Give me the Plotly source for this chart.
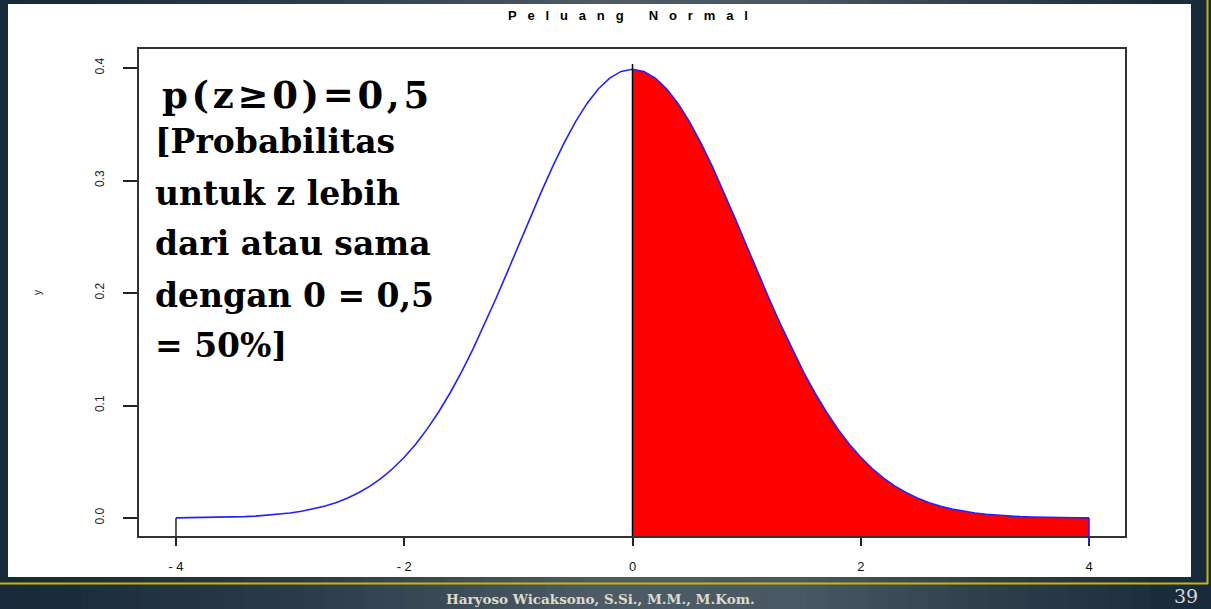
import plotly.graph_objects as go

# ---- data ----
z_values = [-4.0, -3.9, -3.8, -3.7, -3.6, -3.5, -3.4, -3.3, -3.2, -3.1, -3.0,
            -2.9, -2.8, -2.7, -2.6, -2.5, -2.4, -2.3, -2.2, -2.1, -2.0,
            -1.9, -1.8, -1.7, -1.6, -1.5, -1.4, -1.3, -1.2, -1.1, -1.0,
            -0.9, -0.8, -0.7, -0.6, -0.5, -0.4, -0.3, -0.2, -0.1, 0.0,
            0.1, 0.2, 0.3, 0.4, 0.5, 0.6, 0.7, 0.8, 0.9, 1.0,
            1.1, 1.2, 1.3, 1.4, 1.5, 1.6, 1.7, 1.8, 1.9, 2.0,
            2.1, 2.2, 2.3, 2.4, 2.5, 2.6, 2.7, 2.8, 2.9, 3.0,
            3.1, 3.2, 3.3, 3.4, 3.5, 3.6, 3.7, 3.8, 3.9, 4.0]
density_values = [0.0001, 0.0002, 0.0003, 0.0004, 0.0006, 0.0009, 0.0012, 0.0017, 0.0024, 0.0033, 0.0044,
                  0.0060, 0.0079, 0.0104, 0.0136, 0.0175, 0.0224, 0.0283, 0.0355, 0.0440, 0.0540,
                  0.0656, 0.0790, 0.0940, 0.1109, 0.1295, 0.1497, 0.1714, 0.1942, 0.2179, 0.2420,
                  0.2661, 0.2897, 0.3123, 0.3332, 0.3521, 0.3683, 0.3814, 0.3910, 0.3970, 0.3989,
                  0.3970, 0.3910, 0.3814, 0.3683, 0.3521, 0.3332, 0.3123, 0.2897, 0.2661, 0.2420,
                  0.2179, 0.1942, 0.1714, 0.1497, 0.1295, 0.1109, 0.0940, 0.0790, 0.0656, 0.0540,
                  0.0440, 0.0355, 0.0283, 0.0224, 0.0175, 0.0136, 0.0104, 0.0079, 0.0060, 0.0044,
                  0.0033, 0.0024, 0.0017, 0.0012, 0.0009, 0.0006, 0.0004, 0.0003, 0.0002, 0.0001]
shade_from = 0.0
shade_to = 4.0
x_tick_vals = [-4, -2, 0, 2, 4]
x_tick_text = ["- 4", "- 2", "0", "2", "4"]
y_tick_vals = [0.0, 0.1, 0.2, 0.3, 0.4]
y_tick_text = ["0.0", "0.1", "0.2", "0.3", "0.4"]
title_text = "Peluang Normal"
note_head = "p\u200a(\u200az\u200a≥\u200a0\u200a)\u200a=\u200a0\u200a,\u200a5"
note_lines = ["[Probabilitas", "untuk z lebih", "dari atau sama", "dengan 0 = 0,5", "= 50%]"]
footer_text = "Haryoso Wicaksono, S.Si., M.M., M.Kom."
page_number = "39"

# ---- layout geometry (pixels) ----
W, H = 1211, 609
L, R, T, B = 139, 1125, 49, 536
YMIN, YMAX = -0.016, 0.4169
XMIN, XMAX = -4.324, 4.315


def px(xp):
    return (xp - L) / (R - L)


def py(yp):
    return (B - yp) / (B - T)


def spaced(word_text):
    gap = "\u00a0" * 3
    words = word_text.split(" ")
    return ("\u00a0" * 7).join(gap.join(list(w)) for w in words)


fig = go.Figure()

# shaded region (z >= 0)
sx = [shade_from] + [z for z in z_values if shade_from <= z <= shade_to] + [shade_to]
sy = [YMIN] + [d for z, d in zip(z_values, density_values) if shade_from <= z <= shade_to] + [YMIN]
fig.add_trace(go.Scatter(x=sx, y=sy, fill="toself", fillcolor="#ff0000",
                         line=dict(width=0), mode="lines", hoverinfo="skip", showlegend=False))

# density curve
fig.add_trace(go.Scatter(x=z_values, y=density_values, mode="lines",
                         line=dict(color="#2222ff", width=1.6), showlegend=False))

shapes = []
# background gradient (slide)
stops = [(0, (23, 41, 58)), (300, (44, 59, 74)), (600, (78, 92, 103)),
         (800, (74, 88, 100)), (1000, (47, 61, 74)), (1211, (22, 40, 58))]
n = 60
for i in range(n):
    x0 = W * i / n
    x1 = W * (i + 1) / n
    xm = (x0 + x1) / 2
    for (a, ca), (b, cb) in zip(stops[:-1], stops[1:]):
        if a <= xm <= b:
            t = (xm - a) / (b - a)
            c = tuple(int(ca[k] + (cb[k] - ca[k]) * t) for k in range(3))
            break
    shapes.append(dict(type="rect", xref="paper", yref="paper", layer="below",
                       x0=px(x0), x1=px(x1 + 1), y0=py(H), y1=py(0),
                       fillcolor="rgb(%d,%d,%d)" % c, line=dict(width=0)))
# white slide panel
shapes.append(dict(type="rect", xref="paper", yref="paper", layer="below",
                   x0=px(8), x1=px(1191), y0=py(577), y1=py(4),
                   fillcolor="white", line=dict(width=0)))
# yellow frame lines
shapes.append(dict(type="line", xref="paper", yref="paper", layer="below",
                   x0=px(0), x1=px(1208), y0=py(583.5), y1=py(583.5),
                   line=dict(color="#c8b600", width=2)))
shapes.append(dict(type="line", xref="paper", yref="paper", layer="below",
                   x0=px(1207.5), x1=px(1207.5), y0=py(584), y1=py(0),
                   line=dict(color="#c8b600", width=2)))
# vertical line at z = 0
shapes.append(dict(type="line", xref="x", yref="y", x0=0, x1=0, y0=YMIN, y1=0.4035,
                   line=dict(color="black", width=1.5)))
# left edge at z = -4
shapes.append(dict(type="line", xref="x", yref="y", x0=-4, x1=-4, y0=YMIN, y1=0.0001,
                   line=dict(color="#222222", width=1.5)))
# right edge at z = 4
shapes.append(dict(type="line", xref="x", yref="paper", x0=4, x1=4, y0=py(544), y1=py(518),
                   line=dict(color="#2222ff", width=1.5)))

annotations = []
annotations.append(dict(text="<b>" + spaced(title_text) + "</b>", x=px(628), y=py(16), xref="paper", yref="paper",
                        showarrow=False, xanchor="center", yanchor="middle",
                        font=dict(family="Liberation Sans, Arial", size=13, color="black")))
annotations.append(dict(text="y", x=px(37), y=py(293), xref="paper", yref="paper", textangle=-90,
                        showarrow=False, xanchor="center", yanchor="middle",
                        font=dict(family="Liberation Sans, Arial", size=10, color="#222")))
annotations.append(dict(text="<b>" + note_head + "</b>", x=px(160), y=py(95), xref="paper", yref="paper",
                        showarrow=False, xanchor="left", yanchor="middle",
                        font=dict(family="DejaVu Serif", size=37, color="black")))
line_y = [141, 193, 243, 295, 345]
for t, yy in zip(note_lines, line_y):
    annotations.append(dict(text="<b>" + t + "</b>", x=px(153), y=py(yy), xref="paper", yref="paper",
                            showarrow=False, xanchor="left", yanchor="middle",
                            font=dict(family="DejaVu Serif", size=33, color="black")))
annotations.append(dict(text="<b>" + footer_text + "</b>", x=px(600), y=py(599), xref="paper", yref="paper",
                        showarrow=False, xanchor="center", yanchor="middle",
                        font=dict(family="DejaVu Serif", size=13.5, color="#dcdcca")))
annotations.append(dict(text=page_number, x=px(1200), y=py(596), xref="paper", yref="paper",
                        showarrow=False, xanchor="right", yanchor="middle",
                        font=dict(family="DejaVu Serif", size=19, color="#d4d8dc")))

fig.update_layout(
    width=W, height=H,
    margin=dict(l=L, r=W - R, t=T, b=H - B, pad=0),
    paper_bgcolor="#2c3b4a",
    plot_bgcolor="white",
    shapes=shapes,
    annotations=annotations,
    showlegend=False,
    xaxis=dict(range=[XMIN, XMAX], tickmode="array", tickvals=x_tick_vals, ticktext=x_tick_text,
               ticks="outside", ticklen=8, tickwidth=1.5, tickcolor="#222",
               showline=True, linecolor="#333", linewidth=2, mirror=True,
               showgrid=False, zeroline=False, ticklabelstandoff=9,
               tickfont=dict(family="Liberation Sans, Arial", size=13, color="#111")),
    yaxis=dict(range=[YMIN, YMAX], tickmode="array", tickvals=y_tick_vals, ticktext=y_tick_text,
               ticks="outside", ticklen=14, tickwidth=1.5, tickcolor="#222", tickangle=-90,
               showline=True, linecolor="#333", linewidth=2, mirror=True,
               showgrid=False, zeroline=False, ticklabelstandoff=14,
               tickfont=dict(family="Liberation Sans, Arial", size=12, color="#222")),
)

fig.write_html("out.html", config={"displayModeBar": False},
               post_script="document.body.style.margin='0';document.body.style.overflow='hidden';")
